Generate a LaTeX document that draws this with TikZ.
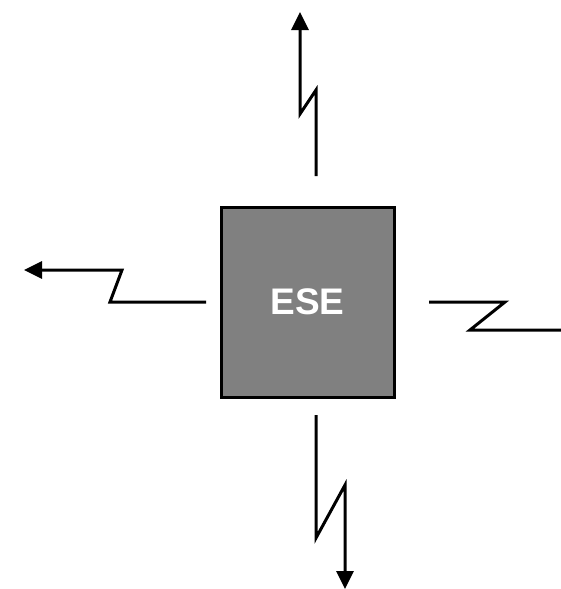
\documentclass[tikz,border=0pt]{standalone}
\usepackage{fontspec}
\setmainfont{Liberation Sans}
\usetikzlibrary{arrows.meta}
\definecolor{boxgray}{HTML}{808080}
\tikzset{
  ese/.style={draw=black, line width=3pt, fill=boxgray, minimum width=173pt, minimum height=190pt, inner sep=0pt, text=white, font=\fontsize{37}{43}\selectfont\bfseries},
  wire/.style={line width=3pt, line join=miter},
  tip/.style={-{Triangle[length=18pt,width=17pt]}}
}
\begin{document}
\begin{tikzpicture}[x=1pt,y=-1pt]
\useasboundingbox (0,0) rectangle (561,589);
\node[ese] (box) at (307.5,302) {ESE};
% top
\coordinate (t0) at (316,176);
\coordinate (t1) at (316,90);
\coordinate (t2) at (300,114);
\coordinate (t3) at (300,12);
\draw[wire,tip] (t0) -- (t1) -- (t2) -- (t3);
% left
\coordinate (l0) at (206,302);
\coordinate (l1) at (110,302);
\coordinate (l2) at (122,270);
\coordinate (l3) at (24,270);
\draw[wire,tip] (l0) -- (l1) -- (l2) -- (l3);
% right
\coordinate (r0) at (429,302);
\coordinate (r1) at (505,302);
\coordinate (r2) at (470,330);
\coordinate (r3) at (561,330);
\draw[wire] (r0) -- (r1) -- (r2) -- (r3);
% bottom
\coordinate (b0) at (316,415);
\coordinate (b1) at (316,538);
\coordinate (b2) at (345,485);
\coordinate (b3) at (345,589);
\draw[wire,tip] (b0) -- (b1) -- (b2) -- (b3);
\end{tikzpicture}
\end{document}
